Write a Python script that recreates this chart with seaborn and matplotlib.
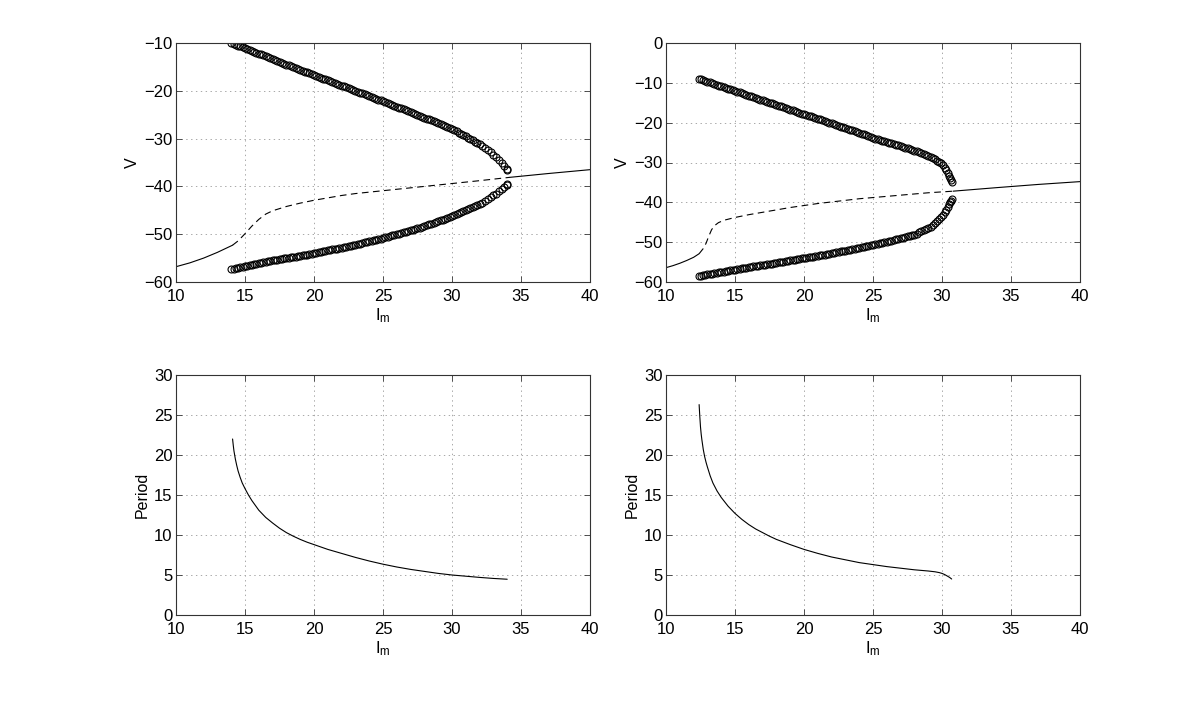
import matplotlib
matplotlib.use("Agg")
import matplotlib.pyplot as plt
import seaborn as sns
import pandas as pd

# ---------------- data ----------------
# Left column: limit-cycle branch (max / min of V)
L_x = [14.0, 14.17, 14.33, 14.5, 14.67, 14.83, 15.0, 15.17, 15.33, 15.5, 15.67, 15.83,
       16.0, 16.17, 16.33, 16.5, 16.67, 16.83, 17.0, 17.17, 17.33, 17.5, 17.67, 17.83,
       18.0, 18.17, 18.33, 18.5, 18.67, 18.83, 19.0, 19.17, 19.33, 19.5, 19.67, 19.83,
       20.0, 20.17, 20.33, 20.5, 20.67, 20.83, 21.0, 21.17, 21.33, 21.5, 21.67, 21.83,
       22.0, 22.17, 22.33, 22.5, 22.67, 22.83, 23.0, 23.17, 23.33, 23.5, 23.67, 23.83,
       24.0, 24.17, 24.33, 24.5, 24.67, 24.83, 25.0, 25.17, 25.33, 25.5, 25.67, 25.83,
       26.0, 26.17, 26.33, 26.5, 26.67, 26.83, 27.0, 27.17, 27.33, 27.5, 27.67, 27.83,
       28.0, 28.17, 28.33, 28.5, 28.67, 28.83, 29.0, 29.17, 29.33, 29.5, 29.67, 29.83,
       30.0, 30.17, 30.33, 30.5, 30.67, 30.83, 31.0, 31.17, 31.33, 31.5, 31.67, 31.83,
       32.0, 32.2, 32.4, 32.6, 32.8, 33.0, 33.2, 33.4, 33.6, 33.8, 33.95, 34.0]
L_up_v = [-10.00, -10.18, -10.37, -10.55, -10.73, -10.92,
          -11.10, -11.28, -11.47, -11.65, -11.83, -12.02,
          -12.20, -12.38, -12.57, -12.75, -12.93, -13.12,
          -13.30, -13.50, -13.70, -13.90, -14.10, -14.30,
          -14.50, -14.68, -14.87, -15.05, -15.23, -15.42,
          -15.60, -15.78, -15.97, -16.15, -16.33, -16.52,
          -16.70, -16.88, -17.07, -17.25, -17.43, -17.62,
          -17.80, -17.98, -18.17, -18.35, -18.53, -18.72,
          -18.90, -19.08, -19.27, -19.45, -19.63, -19.82,
          -20.00, -20.18, -20.37, -20.55, -20.73, -20.92,
          -21.10, -21.28, -21.47, -21.65, -21.83, -22.02,
          -22.20, -22.38, -22.57, -22.75, -22.93, -23.12,
          -23.30, -23.50, -23.70, -23.90, -24.10, -24.30,
          -24.50, -24.68, -24.87, -25.05, -25.23, -25.42,
          -25.60, -25.80, -26.00, -26.20, -26.40, -26.60,
          -26.80, -27.00, -27.20, -27.40, -27.60, -27.80,
          -28.00, -28.25, -28.50, -28.75, -29.00, -29.25,
          -29.50, -29.78, -30.07, -30.35, -30.63, -30.92,
          -31.20, -31.60, -32.00, -32.40, -32.90, -33.40, -33.90, -34.40, -35.00, -35.70,
          -36.30, -36.60]
L_lo_v = [-57.30, -57.20, -57.10, -57.00, -56.90, -56.80,
          -56.70, -56.60, -56.50, -56.40, -56.30, -56.20,
          -56.10, -56.00, -55.90, -55.80, -55.70, -55.60,
          -55.50, -55.42, -55.33, -55.25, -55.17, -55.08,
          -55.00, -54.92, -54.83, -54.75, -54.67, -54.58,
          -54.50, -54.42, -54.33, -54.25, -54.17, -54.08,
          -54.00, -53.90, -53.80, -53.70, -53.60, -53.50,
          -53.40, -53.30, -53.20, -53.10, -53.00, -52.90,
          -52.80, -52.70, -52.60, -52.50, -52.40, -52.30,
          -52.20, -52.08, -51.97, -51.85, -51.73, -51.62,
          -51.50, -51.38, -51.27, -51.15, -51.03, -50.92,
          -50.80, -50.67, -50.53, -50.40, -50.27, -50.13,
          -50.00, -49.87, -49.73, -49.60, -49.47, -49.33,
          -49.20, -49.05, -48.90, -48.75, -48.60, -48.45,
          -48.30, -48.13, -47.97, -47.80, -47.63, -47.47,
          -47.30, -47.12, -46.93, -46.75, -46.57, -46.38,
          -46.20, -46.00, -45.80, -45.60, -45.40, -45.20,
          -45.00, -44.78, -44.57, -44.35, -44.13, -43.92,
          -43.70, -43.40, -43.00, -42.70, -42.30, -41.90, -41.50, -41.00, -40.60, -40.10,
          -39.70, -39.50]

# Left column: equilibrium branch (stable solid, unstable dashed)
L_eq_st1_x = [10.0, 11.0, 12.0, 13.0, 14.1]
L_eq_st1_v = [-56.8, -56.0, -55.0, -53.8, -52.3]
L_eq_un_x = [14.1, 14.5, 15.0, 15.5, 16.0, 16.5, 17.0, 18.0, 19.0, 20.0, 21.0, 22.0, 23.0,
             24.0, 25.0, 26.0, 28.0, 30.0, 32.0, 34.2]
L_eq_un_v = [-52.3, -51.4, -49.9, -48.3, -46.9, -45.8, -45.1, -44.2, -43.5, -42.9, -42.4,
             -41.9, -41.5, -41.2, -40.9, -40.6, -40.0, -39.4, -38.8, -38.1]
L_eq_st2_x = [34.2, 37.0, 40.0]
L_eq_st2_v = [-38.1, -37.3, -36.5]

# Right column: limit-cycle branch
R_x = [12.4, 12.5, 12.67, 12.83,
       13.0, 13.17, 13.33, 13.5, 13.67, 13.83, 14.0, 14.17, 14.33, 14.5, 14.67, 14.83,
       15.0, 15.17, 15.33, 15.5, 15.67, 15.83, 16.0, 16.17, 16.33, 16.5, 16.67, 16.83,
       17.0, 17.17, 17.33, 17.5, 17.67, 17.83, 18.0, 18.17, 18.33, 18.5, 18.67, 18.83,
       19.0, 19.17, 19.33, 19.5, 19.67, 19.83, 20.0, 20.17, 20.33, 20.5, 20.67, 20.83,
       21.0, 21.17, 21.33, 21.5, 21.67, 21.83, 22.0, 22.17, 22.33, 22.5, 22.67, 22.83,
       23.0, 23.17, 23.33, 23.5, 23.67, 23.83, 24.0, 24.17, 24.33, 24.5, 24.67, 24.83,
       25.0, 25.17, 25.33, 25.5, 25.67, 25.83, 26.0, 26.17, 26.33, 26.5, 26.67, 26.83,
       27.0, 27.17, 27.33, 27.5, 27.67, 27.83, 28.0, 28.17, 28.33, 28.5, 28.67, 28.83,
       29.0, 29.17, 29.33, 29.5,
       29.65, 29.8, 29.95, 30.08, 30.2, 30.32, 30.43, 30.52, 30.6, 30.66, 30.7]
R_up_v = [-9.00, -9.12, -9.31, -9.50,
          -9.70, -9.90, -10.10, -10.30, -10.50, -10.70,
          -10.90, -11.08, -11.27, -11.45, -11.63, -11.82,
          -12.00, -12.20, -12.40, -12.60, -12.80, -13.00,
          -13.20, -13.40, -13.60, -13.80, -14.00, -14.20,
          -14.40, -14.58, -14.77, -14.95, -15.13, -15.32,
          -15.50, -15.70, -15.90, -16.10, -16.30, -16.50,
          -16.70, -16.90, -17.10, -17.30, -17.50, -17.70,
          -17.90, -18.08, -18.27, -18.45, -18.63, -18.82,
          -19.00, -19.20, -19.40, -19.60, -19.80, -20.00,
          -20.20, -20.40, -20.60, -20.80, -21.00, -21.20,
          -21.40, -21.58, -21.77, -21.95, -22.13, -22.32,
          -22.50, -22.72, -22.93, -23.15, -23.37, -23.58,
          -23.80, -23.98, -24.17, -24.35, -24.53, -24.72,
          -24.90, -25.07, -25.23, -25.40, -25.57, -25.73,
          -25.90, -26.08, -26.27, -26.45, -26.63, -26.82,
          -27.00, -27.23, -27.47, -27.70, -27.93, -28.17,
          -28.40, -28.67, -28.93, -29.20,
          -29.50, -29.85, -30.25, -30.70, -31.30, -31.90, -32.60, -33.30, -34.00, -34.50,
          -35.00]
R_lo_v = [-58.50, -58.43, -58.32, -58.21,
          -58.10, -58.00, -57.90, -57.80, -57.70, -57.60,
          -57.50, -57.40, -57.30, -57.20, -57.10, -57.00,
          -56.90, -56.80, -56.70, -56.60, -56.50, -56.40,
          -56.30, -56.20, -56.10, -56.00, -55.90, -55.80,
          -55.70, -55.62, -55.53, -55.45, -55.37, -55.28,
          -55.20, -55.10, -55.00, -54.90, -54.80, -54.70,
          -54.60, -54.50, -54.40, -54.30, -54.20, -54.10,
          -54.00, -53.90, -53.80, -53.70, -53.60, -53.50,
          -53.40, -53.30, -53.20, -53.10, -53.00, -52.90,
          -52.80, -52.68, -52.57, -52.45, -52.33, -52.22,
          -52.10, -51.98, -51.87, -51.75, -51.63, -51.52,
          -51.40, -51.28, -51.17, -51.05, -50.93, -50.82,
          -50.70, -50.57, -50.43, -50.30, -50.17, -50.03,
          -49.90, -49.75, -49.60, -49.45, -49.30, -49.15,
          -49.00, -48.85, -48.70, -48.55, -48.40, -48.25,
          -48.10, -47.83, -47.57, -47.30, -47.03, -46.77,
          -46.50, -46.10, -45.70, -45.30,
          -44.80, -44.30, -43.70, -43.10, -42.50, -41.80, -41.10, -40.50, -40.00, -39.60,
          -39.20]

# Right column: equilibrium branch
R_eq_st1_x = [10.0, 10.5, 11.0, 11.5, 12.0, 12.4]
R_eq_st1_v = [-56.4, -55.9, -55.3, -54.6, -53.8, -52.9]
R_eq_un_x = [12.4, 12.7, 12.9, 13.1, 13.3, 13.5, 13.8, 14.2, 15.0, 16.0, 17.0, 18.0, 19.0,
             20.0, 21.0, 22.0, 23.0, 24.0, 25.0, 26.0, 27.0, 28.0, 29.0, 30.8]
R_eq_un_v = [-52.9, -51.6, -50.3, -48.5, -46.9, -45.9, -45.1, -44.5, -43.8, -43.1, -42.5,
             -41.9, -41.3, -40.8, -40.3, -39.9, -39.5, -39.1, -38.8, -38.5, -38.2, -37.9,
             -37.6, -37.2]
R_eq_st2_x = [30.8, 34.0, 37.0, 40.0]
R_eq_st2_v = [-37.2, -36.3, -35.5, -34.8]

# Periods
L_per_x = [14.1, 14.15, 14.2, 14.3, 14.4, 14.5, 14.65, 14.8, 15.0, 15.25, 15.5, 15.75, 16.0,
           16.5, 17.0, 17.5, 18.0, 18.5, 19.0, 19.5, 20.0, 21.0, 22.0, 23.0, 24.0, 25.0,
           26.0, 27.0, 28.0, 29.0, 30.0, 31.0, 32.0, 33.0, 34.0]
L_per_y = [22.0, 21.2, 20.5, 19.5, 18.7, 18.0, 17.2, 16.5, 15.8, 15.0, 14.3, 13.7, 13.1,
           12.2, 11.5, 10.85, 10.3, 9.85, 9.45, 9.1, 8.8, 8.2, 7.7, 7.2, 6.75, 6.35,
           6.0, 5.7, 5.45, 5.2, 5.0, 4.85, 4.7, 4.57, 4.47]
R_per_x = [12.4, 12.45, 12.5, 12.55, 12.6, 12.7, 12.8, 12.9, 13.0, 13.2, 13.4, 13.7, 14.0,
           14.5, 15.0, 15.5, 16.0, 16.5, 17.0, 17.5, 18.0, 19.0, 20.0, 21.0, 22.0, 23.0,
           24.0, 25.0, 26.0, 27.0, 28.0, 29.0, 29.5, 29.8, 30.0, 30.2, 30.4, 30.55, 30.7]
R_per_y = [26.3, 24.8, 23.5, 22.6, 21.9, 20.7, 19.8, 19.1, 18.5, 17.4, 16.5, 15.5, 14.7,
           13.6, 12.7, 11.95, 11.3, 10.75, 10.3, 9.85, 9.45, 8.8, 8.2, 7.7, 7.25, 6.9,
           6.55, 6.3, 6.05, 5.85, 5.65, 5.5, 5.4, 5.3, 5.2, 5.05, 4.85, 4.7, 4.5]

x_ticks = [10, 15, 20, 25, 30, 35, 40]
v_ticks_left = [-60, -50, -40, -30, -20, -10]
v_ticks_right = [-60, -50, -40, -30, -20, -10, 0]
per_ticks = [0, 5, 10, 15, 20, 25, 30]

# ---------------- style ----------------
sns.set_theme(style="white")
plt.rcParams["font.family"] = ["Liberation Sans", "DejaVu Sans"]
plt.rcParams["lines.scale_dashes"] = False
plt.rcParams["mathtext.default"] = "regular"

fig = plt.figure(figsize=(12, 7.11), dpi=100)

W, H = 1200.0, 711.0
def pos(l, t, r, b):
    return [l / W, 1 - b / H, (r - l) / W, (b - t) / H]

ax_tl = fig.add_axes(pos(176, 43, 590, 282))
ax_tr = fig.add_axes(pos(666, 43, 1080, 282))
ax_bl = fig.add_axes(pos(176, 375, 590, 615))
ax_br = fig.add_axes(pos(666, 375, 1080, 615))

LW = 0.8

def line(ax, xs, ys, dashed=False):
    df = pd.DataFrame({"x": xs, "y": ys})
    if dashed:
        sns.lineplot(data=df, x="x", y="y", ax=ax, estimator=None, sort=False,
                     color="black", linewidth=LW, linestyle="--")
        ax.lines[-1].set_dashes((4.8, 3.2))
    else:
        sns.lineplot(data=df, x="x", y="y", ax=ax, estimator=None, sort=False,
                     color="black", linewidth=LW)

def circles(ax, xs, ys):
    df = pd.DataFrame({"x": xs, "y": ys})
    sns.lineplot(data=df, x="x", y="y", ax=ax, estimator=None, sort=False,
                 linestyle="none", marker="o", markersize=5.0,
                 markerfacecolor="none", markeredgecolor="black",
                 markeredgewidth=0.8, color="black")

FS = 12

def style(ax, yticks, ylabel):
    ax.set_xlim(10, 40)
    ax.set_xticks(x_ticks)
    ax.set_ylim(yticks[0], yticks[-1])
    ax.set_yticks(yticks)
    ax.set_axisbelow(True)
    ax.grid(True, linestyle=(0, (1, 2.5)), color="#a8a8a8", linewidth=0.7)
    ax.tick_params(direction="in", length=4, width=0.6, top=True, right=True,
                   bottom=True, left=True, labelsize=FS, color="#333333",
                   labelcolor="black")
    ax.tick_params(axis="x", pad=5)
    ax.tick_params(axis="y", pad=2.5)
    for s in ax.spines.values():
        s.set_visible(True)
        s.set_color("#333333")
        s.set_linewidth(0.8)
    ax.set_xlabel("I$_m$", fontsize=FS, labelpad=1.5, color="black")
    ax.set_ylabel(ylabel, fontsize=11.5, labelpad=3, color="black")

# top-left
line(ax_tl, L_eq_st1_x, L_eq_st1_v)
line(ax_tl, L_eq_un_x, L_eq_un_v, dashed=True)
line(ax_tl, L_eq_st2_x, L_eq_st2_v)
circles(ax_tl, L_x, L_up_v)
circles(ax_tl, L_x, L_lo_v)
style(ax_tl, v_ticks_left, "V")

# top-right
line(ax_tr, R_eq_st1_x, R_eq_st1_v)
line(ax_tr, R_eq_un_x, R_eq_un_v, dashed=True)
line(ax_tr, R_eq_st2_x, R_eq_st2_v)
circles(ax_tr, R_x, R_up_v)
circles(ax_tr, R_x, R_lo_v)
style(ax_tr, v_ticks_right, "V")

# bottom
line(ax_bl, L_per_x, L_per_y)
style(ax_bl, per_ticks, "Period")
line(ax_br, R_per_x, R_per_y)
style(ax_br, per_ticks, "Period")

fig.savefig("out.png", dpi=100)
